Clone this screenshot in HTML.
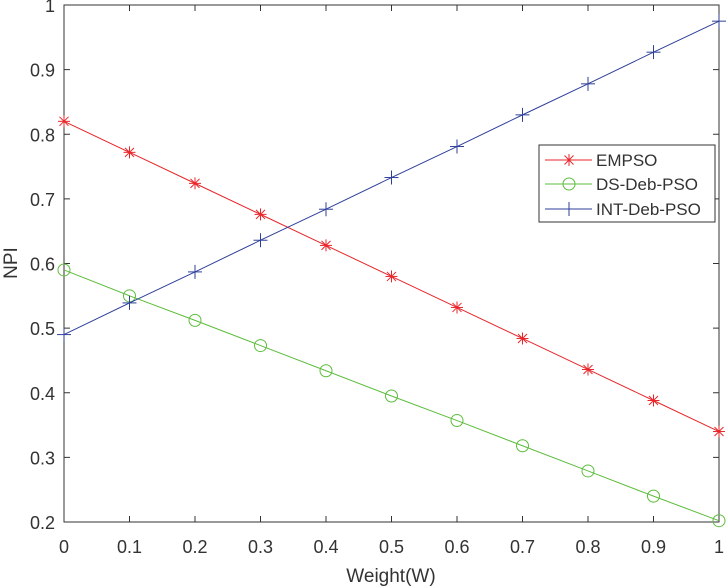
<!DOCTYPE html>
<html><head><meta charset="utf-8"><style>
html,body{margin:0;padding:0;background:#fff;width:726px;height:586px;overflow:hidden}
svg text{font-family:"Liberation Sans",sans-serif;fill:#333}
</style></head><body>
<svg id="s" width="726" height="586" xmlns="http://www.w3.org/2000/svg">
<rect x="0" y="0" width="726" height="586" fill="#fff"/>
<g id="g"></g>
<text x="391" y="582" font-size="19" text-anchor="middle">Weight(W)</text>
<text transform="translate(17,263) rotate(-90)" font-size="19" text-anchor="middle">NPI</text>
</svg>
<script>
var g=document.getElementById('g'),h='';
function X(i){return 64+65.5*i}
function Y(v){return 5+(1-v)*646.25}
h+='<rect x="64" y="5" width="655" height="517" fill="none" stroke="#333" stroke-width="1"/>';
for(var i=0;i<=10;i++){var x=X(i);
h+='<line x1="'+x+'" y1="522" x2="'+x+'" y2="516" stroke="#333"/><line x1="'+x+'" y1="5" x2="'+x+'" y2="11" stroke="#333"/>';
h+='<text x="'+x+'" y="553" font-size="18" text-anchor="middle">'+(i==0?'0':i==10?'1':(i/10).toFixed(1))+'</text>';}
for(var k=2;k<=10;k++){var y=Y(k/10);
h+='<line x1="64" y1="'+y+'" x2="70" y2="'+y+'" stroke="#333"/><line x1="719" y1="'+y+'" x2="713" y2="'+y+'" stroke="#333"/>';
h+='<text x="55" y="'+(y+7)+'" font-size="18" text-anchor="end">'+(k==10?'1':(k/10).toFixed(1))+'</text>';}
var E=[.82,.772,.724,.676,.628,.58,.532,.484,.436,.388,.34],
D=[.59,.55,.512,.473,.434,.395,.357,.318,.279,.24,.202],
I=[.49,.539,.587,.636,.684,.733,.781,.83,.878,.927,.975];
function star(x,y,c){var r=6,s='';s+='<line x1="'+(x-r)+'" y1="'+y+'" x2="'+(x+r)+'" y2="'+y+'" stroke="'+c+'"/>';
s+='<line x1="'+x+'" y1="'+(y-r)+'" x2="'+x+'" y2="'+(y+r)+'" stroke="'+c+'"/>';
s+='<line x1="'+(x-4.5)+'" y1="'+(y-4.5)+'" x2="'+(x+4.5)+'" y2="'+(y+4.5)+'" stroke="'+c+'"/>';
s+='<line x1="'+(x-4.5)+'" y1="'+(y+4.5)+'" x2="'+(x+4.5)+'" y2="'+(y-4.5)+'" stroke="'+c+'"/>';return s}
function circ(x,y,c){return '<circle cx="'+x+'" cy="'+y+'" r="6" fill="none" stroke="'+c+'"/>'}
function plus(x,y,c){var r=7;return '<line x1="'+(x-r)+'" y1="'+y+'" x2="'+(x+r)+'" y2="'+y+'" stroke="'+c+'"/><line x1="'+x+'" y1="'+(y-r)+'" x2="'+x+'" y2="'+(y+r)+'" stroke="'+c+'"/>'}
function series(d,c,m){var p=d.map(function(v,i){return X(i)+','+Y(v)}).join(' ');
var s='<polyline points="'+p+'" fill="none" stroke="'+c+'" stroke-width="1"/>';
d.forEach(function(v,i){s+=m(X(i),Y(v),c)});return s}
h+=series(E,'#e8262a',star);h+=series(D,'#5cbd3c',circ);h+=series(I,'#2e3f9a',plus);
h+='<rect x="539" y="145" width="176" height="77" fill="#fff" stroke="#333"/>';
var L=[['EMPSO','#e8262a',star,160],['DS-Deb-PSO','#5cbd3c',circ,184],['INT-Deb-PSO','#2e3f9a',plus,209]];
L.forEach(function(l){h+='<line x1="545" y1="'+l[3]+'" x2="592" y2="'+l[3]+'" stroke="'+l[1]+'"/>'+l[2](569,l[3],l[1]);
h+='<text x="596" y="'+(l[3]+6)+'" font-size="17">'+l[0]+'</text>';});
g.innerHTML=h;
</script>
</body></html>
